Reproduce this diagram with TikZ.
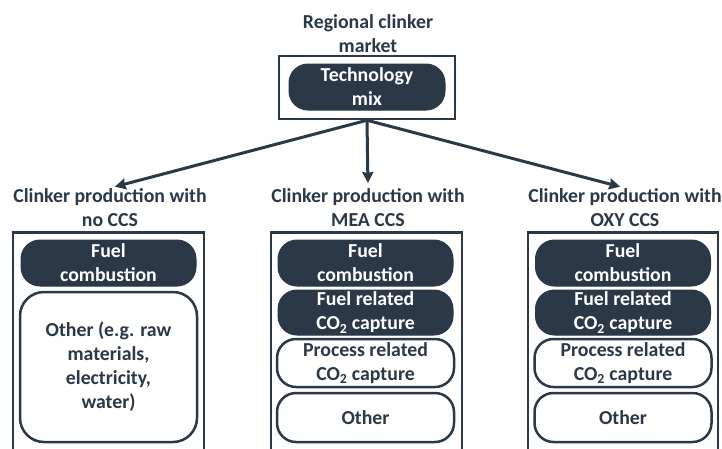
\documentclass[tikz,border=0pt]{standalone}
\usepackage{fontspec}
\setmainfont{Carlito}
\usetikzlibrary{arrows.meta}
\definecolor{navy}{RGB}{42,56,71}
\begin{document}
\begin{tikzpicture}[x=1pt,y=-1pt,
  txt/.style={font=\bfseries\fontsize{19.8}{24}\selectfont, text=navy, align=center, inner sep=0},
  outerbox/.style={draw=navy, line width=2.5pt, minimum width=#1, minimum height=240, inner sep=0},
  topbox/.style={draw=navy, line width=2.5pt, minimum width=176, minimum height=63, inner sep=0},
  darkpill/.style={txt, text=white, fill=navy, draw=navy, line width=1pt, rounded corners=19pt,
     minimum width=#1, inner sep=0},
  whitepill/.style={txt, fill=white, draw=navy, line width=2.5pt, rounded corners=19pt,
     minimum width=#1, inner sep=0},
  conn/.style={draw=navy, line width=3pt, -{Stealth[length=11pt,width=11pt,inset=1pt]}, shorten >=5pt}
]
\useasboundingbox (0,0) rectangle (722,448);

% top
\node[txt, anchor=north] (title) at (368,14) {Regional clinker\\market};
\node[topbox] (top) at (367,87.5) {};
\node[darkpill=156, minimum height=46] (mix) at (367,87) {Technology\\mix};

% labels
\node[txt, anchor=north] (lab1) at (110,188) {Clinker production with\\no CCS};
\node[txt, anchor=north] (lab2) at (368,188) {Clinker production with\\MEA CCS};
\node[txt, anchor=north] (lab3) at (625,188) {Clinker production with\\OXY CCS};

\draw[conn] (top.south) -- (lab1.north);
\draw[conn] (top.south) -- (lab2.north);
\draw[conn] (top.south) -- (lab3.north);

% outer boxes
\node[outerbox=191] (box1) at (108.5,352.5) {};
\node[outerbox=191] (box2) at (366.5,352.5) {};
\node[outerbox=190] (box3) at (623,352.5) {};

% left column
\node[darkpill=175, minimum height=46] (f1) at (108.5,263) {Fuel\\combustion};
\node[whitepill=177, minimum height=150, rounded corners=24pt] (o1) at (108.5,367)
  {Other (e.g. raw\\materials,\\electricity,\\water)};

% middle column
\node[darkpill=175, minimum height=46] (f2) at (365.5,263) {Fuel\\combustion};
\node[darkpill=175, minimum height=45] (r2) at (365.5,312.5) {Fuel related\\CO\textsubscript{2} capture};
\node[whitepill=177, minimum height=48] (p2) at (365.5,363) {Process related\\CO\textsubscript{2} capture};
\node[whitepill=177, minimum height=49] (o2) at (365.5,417.5) {Other};

% right column
\node[darkpill=175, minimum height=46] (f3) at (623,263) {Fuel\\combustion};
\node[darkpill=175, minimum height=45] (r3) at (623,312.5) {Fuel related\\CO\textsubscript{2} capture};
\node[whitepill=177, minimum height=48] (p3) at (623,363) {Process related\\CO\textsubscript{2} capture};
\node[whitepill=177, minimum height=49] (o3) at (623,417.5) {Other};
\end{tikzpicture}
\end{document}
